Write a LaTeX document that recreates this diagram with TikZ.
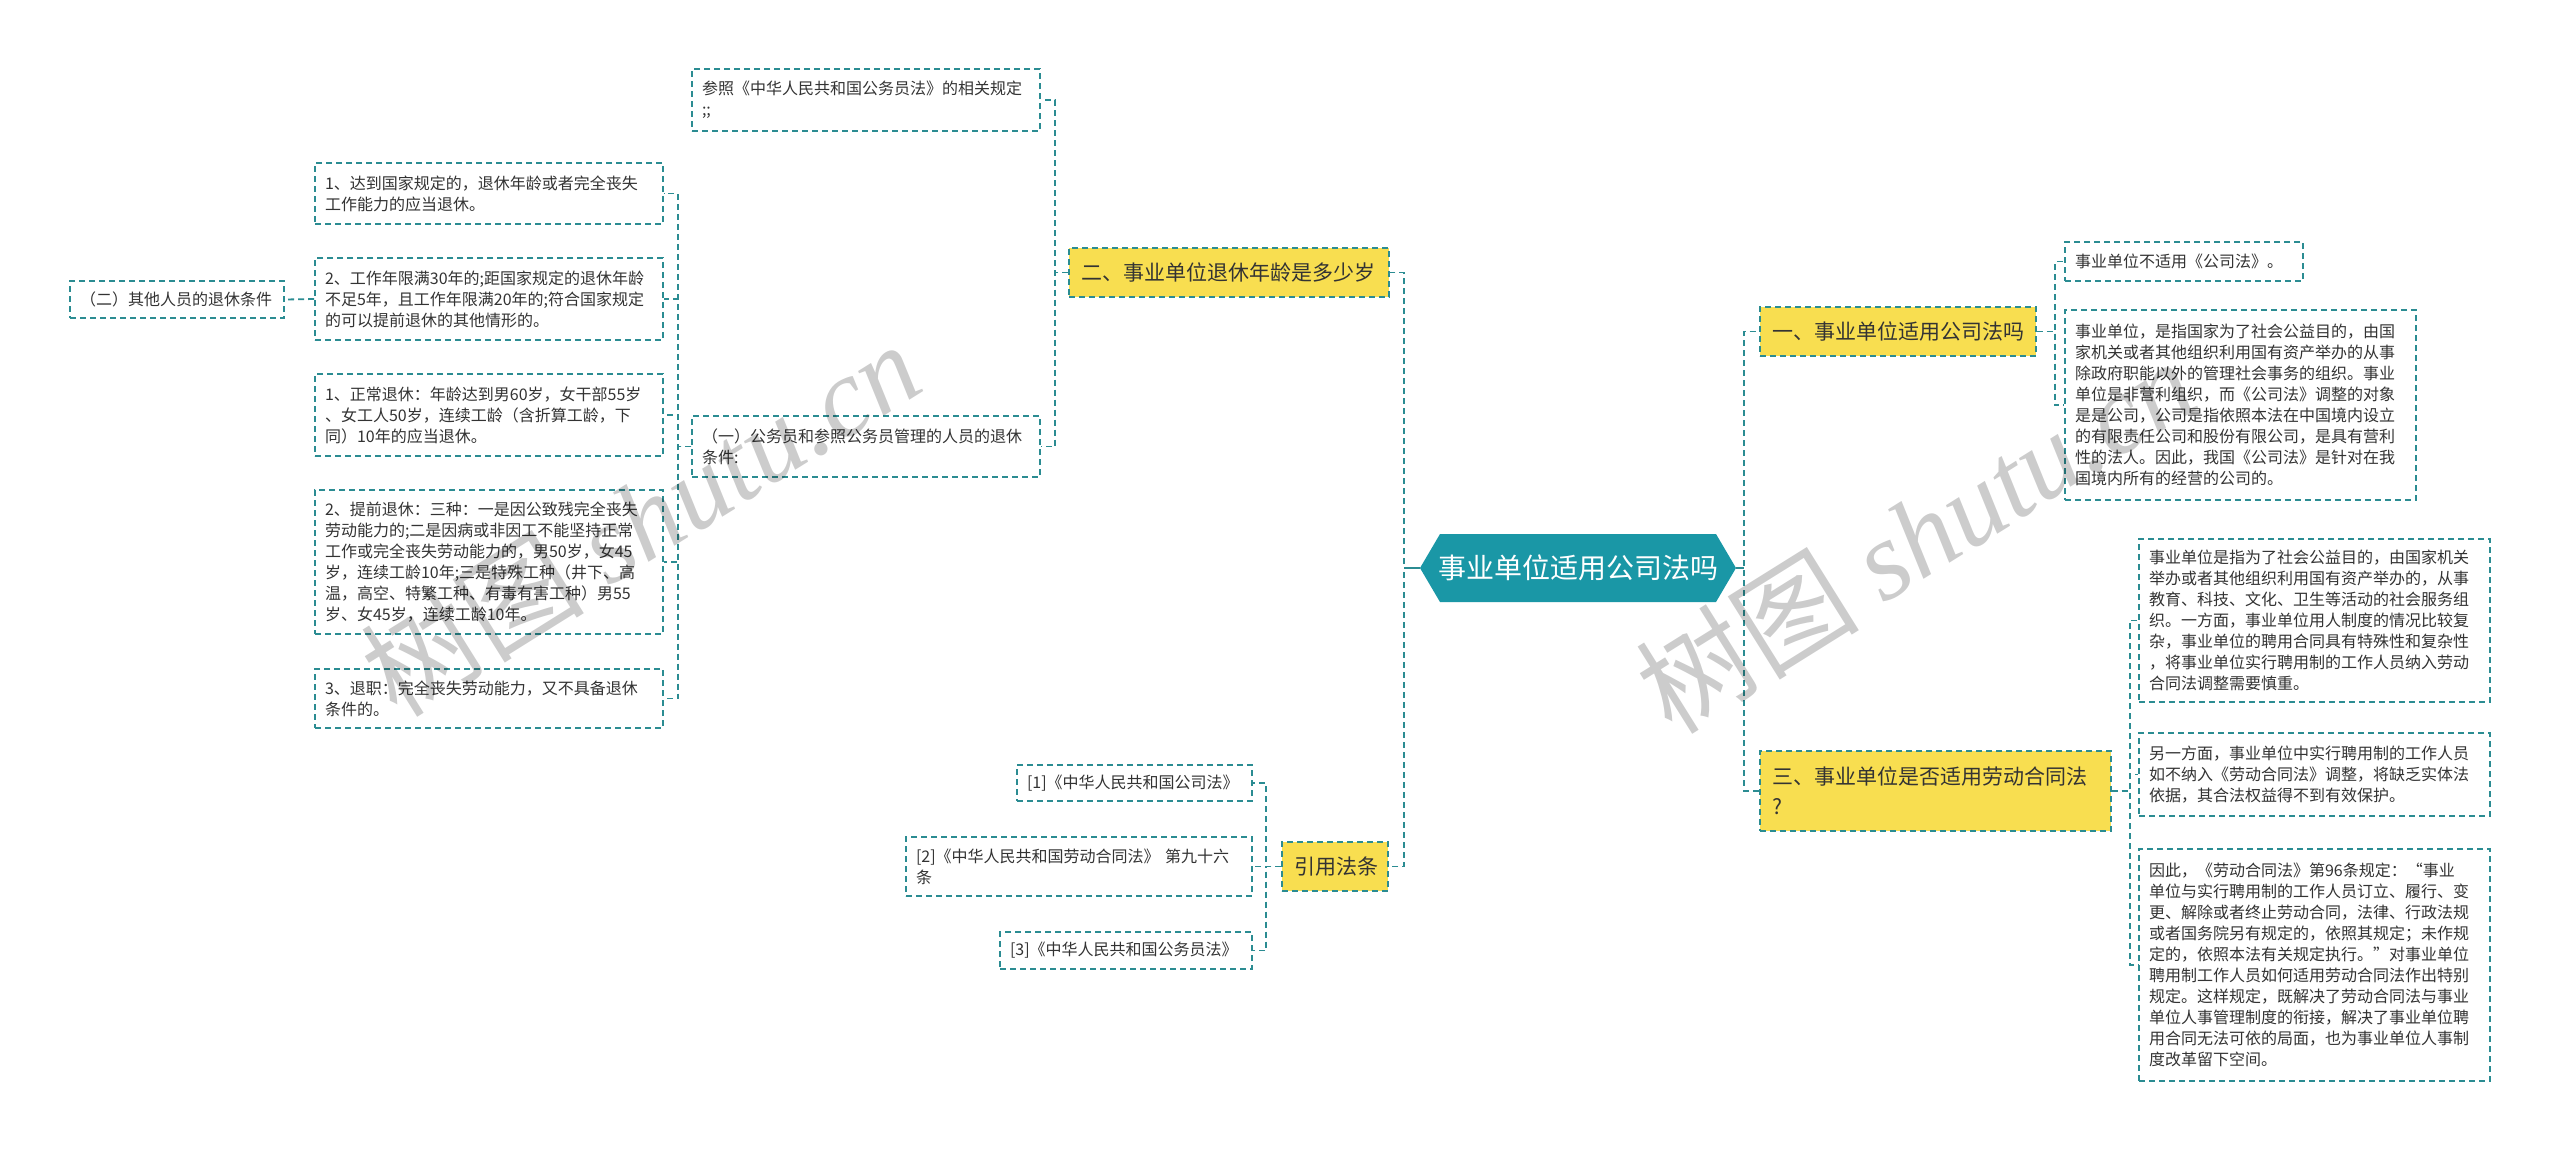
\documentclass[tikz,border=0pt]{standalone}
\usepackage{fontspec}
\setmainfont{Noto Sans CJK SC}
\newfontfamily\wmlatin{Liberation Serif}
\definecolor{lc}{HTML}{2B8C92}
\definecolor{hexc}{HTML}{1A97A6}
\definecolor{yc}{HTML}{F8DE50}
\definecolor{tc}{HTML}{333333}
\begin{document}
\begin{tikzpicture}[x=1pt,y=-1pt,
  conn/.style={draw=lc, line width=1.8pt, dash pattern=on 6pt off 4pt},
  stub/.style={draw=lc, line width=2pt},
  box/.style={draw=lc, line width=1.6pt, dash pattern=on 6pt off 4pt, fill=white, text=tc,
    inner xsep=10pt, inner ysep=0pt, align=left, font=\fontsize{16}{21}\selectfont, anchor=center},
  ybox/.style={box, fill=yc, inner xsep=12pt, font=\fontsize{21}{30}\selectfont},
  wm/.style={text=black, text opacity=0.2, rotate=32, font=\fontsize{112}{112}\selectfont}
]
\fill[white] (0,0) rectangle (2560,1151);
\useasboundingbox (0,0) rectangle (2560,1151);

% central hexagon
\fill[hexc] (1420,568) -- (1440,534) -- (1716,534) -- (1736,568) -- (1716,602) -- (1440,602) -- cycle;
\node[text=white, font=\fontsize{28}{34}\selectfont, minimum width=316pt, minimum height=68pt, inner sep=0pt] (center) at (1578,568) {事业单位适用公司法吗};

% level 1
\node[ybox, minimum width=320pt, minimum height=49pt, text width=296pt] (er) at (1229,272.5) {二、事业单位退休年龄是多少岁};
\node[ybox, minimum width=106pt, minimum height=49pt, text width=82pt] (yin) at (1335,866.5) {引用法条};
\node[ybox, minimum width=276pt, minimum height=49pt, text width=252pt] (yi) at (1898,331.5) {一、事业单位适用公司法吗};
\node[ybox, minimum width=351pt, minimum height=80pt, text width=327pt] (san) at (1935.5,791) {三、事业单位是否适用劳动合同法\\?};

% children of yi
\node[box, minimum width=238pt, minimum height=39pt, text width=218pt] (yi1) at (2184,261.5) {事业单位不适用《公司法》。};
\node[box, minimum width=351pt, minimum height=190pt, text width=331pt] (yi2) at (2240.5,405) {事业单位，是指国家为了社会公益目的，由国\\家机关或者其他组织利用国有资产举办的从事\\除政府职能以外的管理社会事务的组织。事业\\单位是非营利组织，而《公司法》调整的对象\\是是公司，公司是指依照本法在中国境内设立\\的有限责任公司和股份有限公司，是具有营利\\性的法人。因此，我国《公司法》是针对在我\\国境内所有的经营的公司的。};

% children of san
\node[box, minimum width=351pt, minimum height=163pt, text width=331pt] (s1) at (2314.5,620.5) {事业单位是指为了社会公益目的，由国家机关\\举办或者其他组织利用国有资产举办的，从事\\教育、科技、文化、卫生等活动的社会服务组\\织。一方面，事业单位用人制度的情况比较复\\杂，事业单位的聘用合同具有特殊性和复杂性\\，将事业单位实行聘用制的工作人员纳入劳动\\合同法调整需要慎重。};
\node[box, minimum width=351pt, minimum height=83pt, text width=331pt] (s2) at (2314.5,774.5) {另一方面，事业单位中实行聘用制的工作人员\\如不纳入《劳动合同法》调整，将缺乏实体法\\依据，其合法权益得不到有效保护。};
\node[box, minimum width=351pt, minimum height=232pt, text width=331pt] (s3) at (2314.5,965) {因此，《劳动合同法》第96条规定：“事业\\单位与实行聘用制的工作人员订立、履行、变\\更、解除或者终止劳动合同，法律、行政法规\\或者国务院另有规定的，依照其规定；未作规\\定的，依照本法有关规定执行。”对事业单位\\聘用制工作人员如何适用劳动合同法作出特别\\规定。这样规定，既解决了劳动合同法与事业\\单位人事管理制度的衔接，解决了事业单位聘\\用合同无法可依的局面，也为事业单位人事制\\度改革留下空间。};

% children of er
\node[box, minimum width=348pt, minimum height=62pt, text width=328pt] (can) at (866,100) {参照《中华人民共和国公务员法》的相关规定\\;;};
\node[box, minimum width=348pt, minimum height=61pt, text width=328pt] (yiyi) at (866,446.5) {（一）公务员和参照公务员管理的人员的退休\\条件:};

% children of yiyi
\node[box, minimum width=348pt, minimum height=61pt, text width=328pt] (a1) at (489,193.5) {1、达到国家规定的，退休年龄或者完全丧失\\工作能力的应当退休。};
\node[box, minimum width=348pt, minimum height=82pt, text width=328pt] (a2) at (489,299) {2、工作年限满30年的;距国家规定的退休年龄\\不足5年，且工作年限满20年的;符合国家规定\\的可以提前退休的其他情形的。};
\node[box, minimum width=348pt, minimum height=82pt, text width=328pt] (a3) at (489,415) {1、正常退休：年龄达到男60岁，女干部55岁\\、女工人50岁，连续工龄（含折算工龄，下\\同）10年的应当退休。};
\node[box, minimum width=348pt, minimum height=144pt, text width=328pt] (a4) at (489,562) {2、提前退休：三种：一是因公致残完全丧失\\劳动能力的;二是因病或非因工不能坚持正常\\工作或完全丧失劳动能力的，男50岁，女45\\岁，连续工龄10年;三是特殊工种（井下、高\\温，高空、特繁工种、有毒有害工种）男55\\岁、女45岁，连续工龄10年。};
\node[box, minimum width=348pt, minimum height=59pt, text width=328pt] (a5) at (489,698.5) {3、退职：完全丧失劳动能力，又不具备退休\\条件的。};
\node[box, minimum width=214pt, minimum height=37pt, text width=194pt] (er2) at (177,299.5) {（二）其他人员的退休条件};

% citations
\node[box, minimum width=235pt, minimum height=36pt, text width=215pt] (c1) at (1134.5,783) {[1]《中华人民共和国公司法》};
\node[box, minimum width=346pt, minimum height=59pt, text width=326pt] (c2) at (1079,866.5) {[2]《中华人民共和国劳动合同法》 第九十六\\条};
\node[box, minimum width=252pt, minimum height=37pt, text width=232pt] (c3) at (1126,950.5) {[3]《中华人民共和国公务员法》};

% connectors
\draw[conn] (center.west) -- ++(-16,0) |- (er.east);
\draw[conn] (center.west) -- ++(-16,0) |- (yin.east);
\draw[stub] (center.west) -- ++(-16,0);
\draw[conn] (center.east) -- ++(8,0) |- (yi.west);
\draw[conn] (center.east) -- ++(8,0) |- (san.west);
\draw[stub] (center.east) -- ++(8,0);

\draw[conn] (yi.east) -- ++(18,0) |- (yi1.west);
\draw[conn] (yi.east) -- ++(18,0) |- (yi2.west);
\draw[conn] (san.east) -- ++(18,0) |- (s1.west);
\draw[conn] (san.east) -- ++(18,0) |- (s2.west);
\draw[conn] (san.east) -- ++(18,0) |- (s3.west);

\draw[conn] (er.west) -- ++(-13,0) |- (can.east);
\draw[conn] (er.west) -- ++(-13,0) |- (yiyi.east);
\draw[conn] (yiyi.west) -- ++(-13,0) |- (a1.east);
\draw[conn] (yiyi.west) -- ++(-13,0) |- (a2.east);
\draw[conn] (yiyi.west) -- ++(-13,0) |- (a3.east);
\draw[conn] (yiyi.west) -- ++(-13,0) |- (a4.east);
\draw[conn] (yiyi.west) -- ++(-13,0) |- (a5.east);
\draw[conn] (a2.west) -- (er2.east);

\draw[conn] (yin.west) -- ++(-15,0) |- (c1.east);
\draw[conn] (yin.west) -- ++(-15,0) |- (c2.east);
\draw[conn] (yin.west) -- ++(-15,0) |- (c3.east);

% watermarks
\node[wm] (wm1) at (640,518) {树图 {\wmlatin\itshape shutu.cn}};
\node[wm] (wm2) at (1915,535) {树图 {\wmlatin\itshape shutu.cn}};
\end{tikzpicture}
\end{document}
